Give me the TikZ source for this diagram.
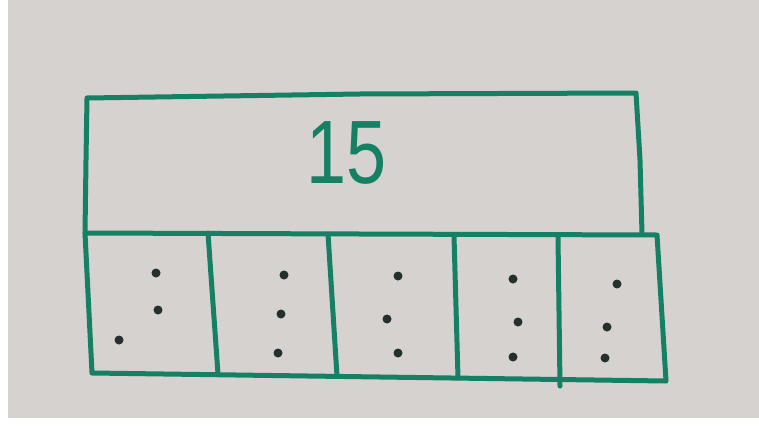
\documentclass[tikz,border=0pt]{standalone}
\usepackage{fontspec}
\setmainfont{Liberation Sans}
\definecolor{board}{RGB}{214,210,208}
\definecolor{marker}{RGB}{22,128,100}
\definecolor{ink}{RGB}{35,48,44}
\tikzset{
  pen/.style={draw=marker, line width=5pt, line cap=round, line join=round},
  dot/.style={circle, fill=ink, inner sep=0pt, minimum size=9pt},
}
\begin{document}
\begin{tikzpicture}[x=1pt,y=-1pt]
	% Board (photo) with its white border
	\fill[white] (0,0) rectangle (759,428);
	\fill[board] (8,0) rectangle (759,418);
	\useasboundingbox (0,0) rectangle (759,428);
%
% Top bar: the whole
	\coordinate (tl) at (87,98);  \coordinate (tr) at (636,93);
	\coordinate (bl) at (85,233); \coordinate (br) at (657,235);
	\draw[pen] (bl) -- (86,160) -- (tl) -- (360,94) -- (tr) -- (640,160) -- (642,234);
	\node[font=\fontsize{90}{90}\selectfont, text=marker, xscale=0.8] (total) at (347,153) {15};
%
% Bottom row: five equal parts
	\coordinate (ll) at (92,373); \coordinate (lr) at (666,381);
	\draw[pen] (bl) -- (360,234) -- (br) -- (lr) -- (380,377) -- (ll) -- cycle;
	\foreach \xa/\ya/\xb/\yb [count=\i] in {208/233/218/374, 328/234/337/376, 454/236/458/378, 558/237/560/386}{
		\draw[pen] (\xa,\ya) coordinate (p\i) -- (\xb,\yb) coordinate (q\i);
	};
% Dots, three in each part
	\foreach \px/\py [count=\i] in {156/273, 158/310, 119/340,
		284/275, 281/314, 278/353,
		398/276, 387/319, 398/353,
		513/279, 518/322, 513/357,
		617/284, 607/327, 605/358}{
		\node[dot] (d\i) at (\px,\py) {};
	};
\end{tikzpicture}
\end{document}
